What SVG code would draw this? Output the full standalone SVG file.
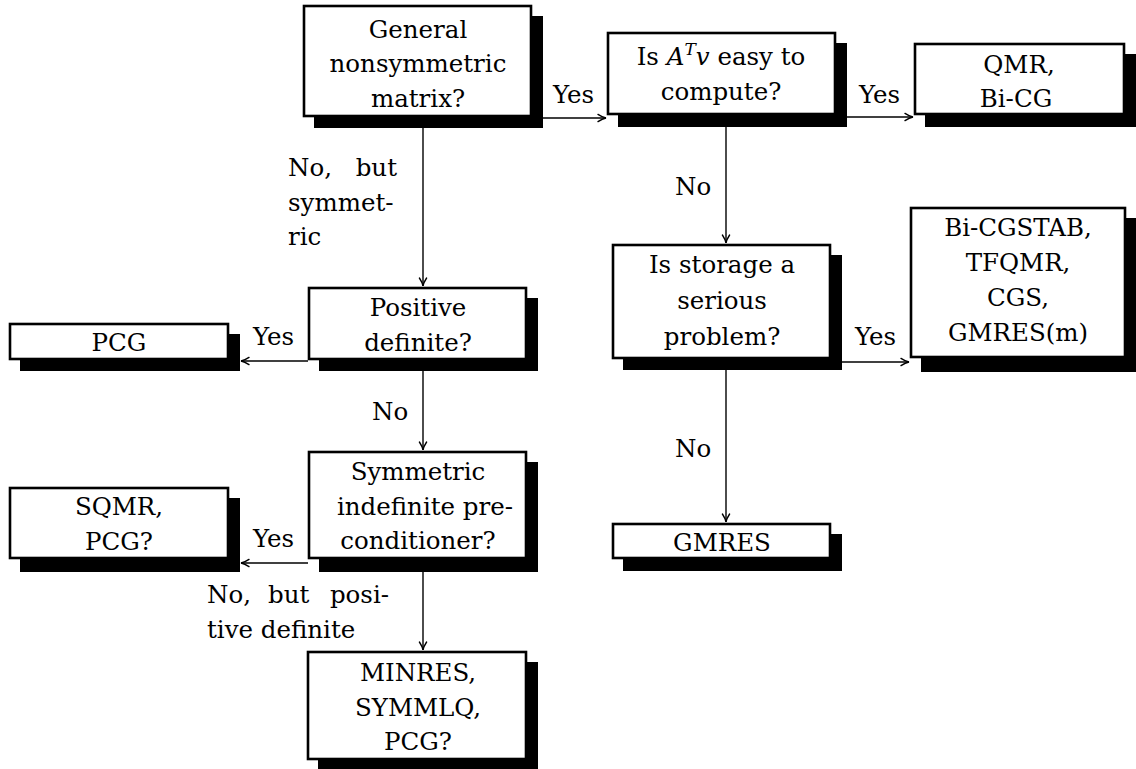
<svg xmlns="http://www.w3.org/2000/svg" width="1136" height="769" viewBox="0 0 1136 769">
<style>
text{font-family:"DejaVu Serif","Liberation Serif",serif;font-size:24.5px;fill:#000}
.c{text-anchor:middle}
.e{text-anchor:end}
.box{fill:#fff;stroke:#000;stroke-width:2.6}
.sh{fill:#000}
.conn{fill:none;stroke:#000;stroke-width:1.4;marker-end:url(#ah)}
</style>
<defs>
<marker id="ah" markerUnits="userSpaceOnUse" markerWidth="14" markerHeight="12" viewBox="-10 -6 12 12" refX="0" refY="0" orient="auto">
<path d="M-8,-3.6 Q-3.5,-0.6 0,0 Q-3.5,0.6 -8,3.6" fill="none" stroke="#000" stroke-width="1.4" stroke-linecap="round"/>
</marker>
</defs>
<rect width="1136" height="769" fill="#fff"/>
<g id="connectors">
<path class="conn" d="M543,118 H606"/>
<path class="conn" d="M847,117 H913"/>
<path class="conn" d="M423,128 V286"/>
<path class="conn" d="M308,361 H241"/>
<path class="conn" d="M423,371 V450"/>
<path class="conn" d="M308,563 H241"/>
<path class="conn" d="M423,570 V650"/>
<path class="conn" d="M726,126 V243"/>
<path class="conn" d="M842,362 H909"/>
<path class="conn" d="M726,370 V522"/>
<text x="553" y="103">Yes</text>
<text x="859" y="103">Yes</text>
<text x="288" y="176">No,</text>
<text class="e" x="397" y="176">but</text>
<text x="288" y="211">symmet-</text>
<text x="288" y="245">ric</text>
<text x="253" y="345">Yes</text>
<text x="372" y="420">No</text>
<text x="253" y="547">Yes</text>
<text x="207" y="603">No,</text>
<text x="268" y="603">but</text>
<text class="e" x="389" y="603">posi-</text>
<text x="207" y="638">tive definite</text>
<text x="675" y="195">No</text>
<text x="855" y="345">Yes</text>
<text x="675" y="457">No</text>
</g>
<g id="general">
<rect class="sh" x="314" y="16" width="229" height="112"/>
<rect class="box" x="304" y="6" width="227" height="110"/>
<text class="c" x="418" y="38">General</text>
<text class="c" x="418" y="72">nonsymmetric</text>
<text class="c" x="418" y="107">matrix?</text>
</g>
<g id="atv">
<rect class="sh" x="618" y="43" width="229" height="84"/>
<rect class="box" x="608" y="33" width="227" height="81"/>
<text class="c" x="721" y="65">Is <tspan font-style="italic">A</tspan><tspan font-style="italic" font-size="17" dy="-10">T</tspan><tspan font-style="italic" dy="10">v</tspan> easy to</text>
<text class="c" x="721" y="100">compute?</text>
</g>
<g id="qmr">
<rect class="sh" x="925" y="54" width="211" height="73"/>
<rect class="box" x="915" y="44" width="209" height="70"/>
<text class="c" x="1019" y="73">QMR,</text>
<text class="c" x="1016" y="107">Bi-CG</text>
</g>
<g id="posdef">
<rect class="sh" x="319" y="298" width="219" height="73"/>
<rect class="box" x="309" y="288" width="217" height="71"/>
<text class="c" x="418" y="316">Positive</text>
<text class="c" x="418" y="351">definite?</text>
</g>
<g id="pcg">
<rect class="sh" x="20" y="334" width="220" height="37"/>
<rect class="box" x="10" y="324" width="218" height="35"/>
<text class="c" x="119" y="351">PCG</text>
</g>
<g id="storage">
<rect class="sh" x="623" y="255" width="219" height="115"/>
<rect class="box" x="613" y="245" width="217" height="113"/>
<text class="c" x="722" y="273">Is storage a</text>
<text class="c" x="722" y="309">serious</text>
<text class="c" x="722" y="345">problem?</text>
</g>
<g id="bicgstab">
<rect class="sh" x="921" y="218" width="216" height="154"/>
<rect class="box" x="911" y="208" width="214" height="149"/>
<text class="c" x="1018" y="236">Bi-CGSTAB,</text>
<text class="c" x="1018" y="271">TFQMR,</text>
<text class="c" x="1018" y="306">CGS,</text>
<text class="c" x="1018" y="341">GMRES(m)</text>
</g>
<g id="symind">
<rect class="sh" x="319" y="462" width="219" height="110"/>
<rect class="box" x="309" y="452" width="217" height="106"/>
<text class="c" x="418" y="480">Symmetric</text>
<text class="c" x="425" y="515">indefinite pre-</text>
<text class="c" x="418" y="549">conditioner?</text>
</g>
<g id="sqmr">
<rect class="sh" x="20" y="498" width="220" height="74"/>
<rect class="box" x="10" y="488" width="218" height="70"/>
<text class="c" x="119" y="515">SQMR,</text>
<text class="c" x="119" y="550">PCG?</text>
</g>
<g id="minres">
<rect class="sh" x="318" y="662" width="220" height="109"/>
<rect class="box" x="308" y="652" width="218" height="107"/>
<text class="c" x="418" y="681">MINRES,</text>
<text class="c" x="418" y="716">SYMMLQ,</text>
<text class="c" x="418" y="750">PCG?</text>
</g>
<g id="gmres">
<rect class="sh" x="623" y="534" width="219" height="37"/>
<rect class="box" x="613" y="524" width="217" height="34"/>
<text class="c" x="722" y="551">GMRES</text>
</g>
</svg>
